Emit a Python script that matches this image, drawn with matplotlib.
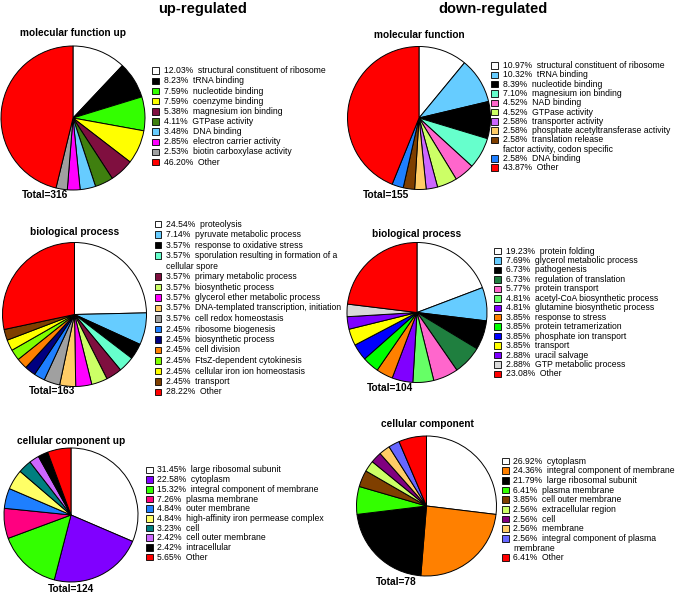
import matplotlib
matplotlib.use("Agg")
import matplotlib.pyplot as plt
from matplotlib.patches import Rectangle

plt.rcParams['font.family'] = ['Liberation Sans', 'DejaVu Sans']

W, H = 675, 594

# ---------------- data ----------------
mf_up_labels = ["structural constituent of ribosome", "tRNA binding", "nucleotide binding",
                "coenzyme binding", "magnesium ion binding", "GTPase activity", "DNA binding",
                "electron carrier activity", "biotin carboxylase activity", "Other"]
mf_up_values = [12.03, 8.23, 7.59, 7.59, 5.38, 4.11, 3.48, 2.85, 2.53, 46.20]
mf_up_total = 316

mf_down_labels = ["structural constituent of ribosome", "tRNA binding", "nucleotide binding",
                  "magnesium ion binding", "NAD binding", "GTPase activity", "transporter activity",
                  "phosphate acetyltransferase activity",
                  "translation release\nfactor activity, codon specific", "DNA binding", "Other"]
mf_down_values = [10.97, 10.32, 8.39, 7.10, 4.52, 4.52, 2.58, 2.58, 2.58, 2.58, 43.87]
mf_down_total = 155

bp_up_labels = ["proteolysis", "pyruvate metabolic process", "response to oxidative stress",
                "sporulation resulting in formation of a\ncellular spore", "primary metabolic process",
                "biosynthetic process", "glycerol ether metabolic process",
                "DNA-templated transcription, initiation", "cell redox homeostasis",
                "ribosome biogenesis", "biosynthetic process", "cell division",
                "FtsZ-dependent cytokinesis", "cellular iron ion homeostasis", "transport", "Other"]
bp_up_values = [24.54, 7.14, 3.57, 3.57, 3.57, 3.57, 3.57, 3.57, 3.57, 2.45, 2.45, 2.45,
                2.45, 2.45, 2.45, 28.22]
bp_up_total = 163

bp_down_labels = ["protein folding", "glycerol metabolic process", "pathogenesis",
                  "regulation of translation", "protein transport", "acetyl-CoA biosynthetic process",
                  "glutamine biosynthetic process", "response to stress", "protein tetramerization",
                  "phosphate ion transport", "transport", "uracil salvage", "GTP metabolic process",
                  "Other"]
bp_down_values = [19.23, 7.69, 6.73, 6.73, 5.77, 4.81, 4.81, 3.85, 3.85, 3.85, 3.85, 2.88,
                  2.88, 23.08]
bp_down_total = 104

cc_up_labels = ["large ribosomal subunit", "cytoplasm", "integral component of membrane",
                "plasma membrane", "outer membrane", "high-affinity iron permease complex", "cell",
                "cell outer membrane", "intracellular", "Other"]
cc_up_values = [31.45, 22.58, 15.32, 7.26, 4.84, 4.84, 3.23, 2.42, 2.42, 5.65]
cc_up_total = 124

cc_down_labels = ["cytoplasm", "integral component of membrane", "large ribosomal subunit",
                  "plasma membrane", "cell outer membrane", "extracellular region", "cell",
                  "membrane", "integral component of plasma\nmembrane", "Other"]
cc_down_values = [26.92, 24.36, 21.79, 6.41, 3.85, 2.56, 2.56, 2.56, 2.56, 6.41]
cc_down_total = 78

# ---------------- colours ----------------
mf_up_colors = ["#FFFFFF", "#000000", "#33FF00", "#FFFF00", "#7F0F3F", "#3F7F0F",
                "#66CCFF", "#FF00FF", "#A0A0A0", "#FF0000"]
mf_down_colors = ["#FFFFFF", "#66CCFF", "#000000", "#66FFCC", "#FF66CC", "#CCFF66",
                  "#CC66FF", "#FFCC66", "#7F3F00", "#1E7FFF", "#FF0000"]
bp_up_colors = ["#FFFFFF", "#66CCFF", "#000000", "#66FFCC", "#7F0F3F", "#CCFF66", "#FF00FF",
                "#FFCC66", "#A0A0A0", "#1E7FFF", "#000080", "#FF8000", "#80FF00", "#FFFF00",
                "#7F3F00", "#FF0000"]
bp_down_colors = ["#FFFFFF", "#66CCFF", "#000000", "#1F7F3F", "#FF66CC", "#66FF66", "#8000FF",
                  "#FF8000", "#00FF00", "#0000FF", "#FFFF00", "#7F00FF", "#D9D9D9", "#FF0000"]
cc_up_colors = ["#FFFFFF", "#8000FF", "#33FF00", "#FF0080", "#1E7FFF", "#FFFF66", "#007F7F",
                "#CC66FF", "#000000", "#FF0000"]
cc_down_colors = ["#FFFFFF", "#FF8000", "#000000", "#33FF00", "#7F3F00", "#CCFF66", "#800080",
                  "#FFCC66", "#6666FF", "#FF0000"]

fig = plt.figure(figsize=(W / 100, H / 100), dpi=100)
fig.patch.set_facecolor("white")

LEG_FS = 6.2
TITLE_FS = 7.3


def fx(x):
    return x / W


def fy(y):
    return 1 - y / H


def draw_pie(cx, cy, r, values, colors):
    m = 3
    ax = fig.add_axes([fx(cx - r - m), fy(cy + r + m), 2 * (r + m) / W, 2 * (r + m) / H])
    ax.pie(values, colors=colors, startangle=90, counterclock=False, radius=1,
           wedgeprops=dict(edgecolor="black", linewidth=0.7))
    lim = (r + m) / r
    ax.set_xlim(-lim, lim)
    ax.set_ylim(-lim, lim)
    ax.set_aspect("auto")
    ax.axis("off")


def draw_legend(x_box, x_text, y0, dy, values, labels, colors):
    row = 0
    bs = 6.5
    for v, lab, c in zip(values, labels, colors):
        lines = lab.split("\n")
        y = y0 + row * dy
        fig.patches.append(Rectangle((fx(x_box), fy(y + bs / 2)), bs / W, bs / H,
                                     transform=fig.transFigure, facecolor=c,
                                     edgecolor="black", linewidth=0.6))
        fig.text(fx(x_text), fy(y), f"{v:.2f}%  {lines[0]}", fontsize=LEG_FS,
                 ha="left", va="center")
        for extra in lines[1:]:
            row += 1
            fig.text(fx(x_text), fy(y0 + row * dy), extra, fontsize=LEG_FS,
                     ha="left", va="center")
        row += 1


def title(x, y, s, size=TITLE_FS, ha="center"):
    fig.text(fx(x), fy(y), s, fontsize=size, fontweight="bold", ha=ha, va="center")


# headers
title(203, 9, "up-regulated", size=10.5)
title(493, 9, "down-regulated", size=10.5)

# molecular function
title(73, 33, "molecular function up")
draw_pie(73, 118, 72, mf_up_values, mf_up_colors)
title(22, 195, f"Total={mf_up_total}", ha="left")
draw_legend(152, 164.5, 70.7, 10.15, mf_up_values, mf_up_labels, mf_up_colors)

title(419, 35, "molecular function")
draw_pie(419, 118, 71.5, mf_down_values, mf_down_colors)
title(363, 195, f"Total={mf_down_total}", ha="left")
draw_legend(491.5, 503, 65.7, 9.27, mf_down_values, mf_down_labels, mf_down_colors)

# biological process
title(75, 232, "biological process")
draw_pie(74.5, 314.5, 72, bp_up_values, bp_up_colors)
title(29, 391, f"Total={bp_up_total}", ha="left")
draw_legend(154.5, 166.5, 224, 10.5, bp_up_values, bp_up_labels, bp_up_colors)

title(417, 234, "biological process")
draw_pie(417, 312.5, 70, bp_down_values, bp_down_colors)
title(367, 388, f"Total={bp_down_total}", ha="left")
draw_legend(494, 506, 251, 9.46, bp_down_values, bp_down_labels, bp_down_colors)

# cellular component
title(71.5, 441, "cellular component up")
draw_pie(71, 515, 67, cc_up_values, cc_up_colors)
title(48, 589, f"Total={cc_up_total}", ha="left")
draw_legend(146, 156.7, 470, 9.67, cc_up_values, cc_up_labels, cc_up_colors)

title(427, 424, "cellular component")
draw_pie(426.5, 506, 70, cc_down_values, cc_down_colors)
title(376, 582, f"Total={cc_down_total}", ha="left")
draw_legend(502.3, 513.3, 461, 9.67, cc_down_values, cc_down_labels, cc_down_colors)

fig.savefig("out.png", dpi=100, facecolor="white")
